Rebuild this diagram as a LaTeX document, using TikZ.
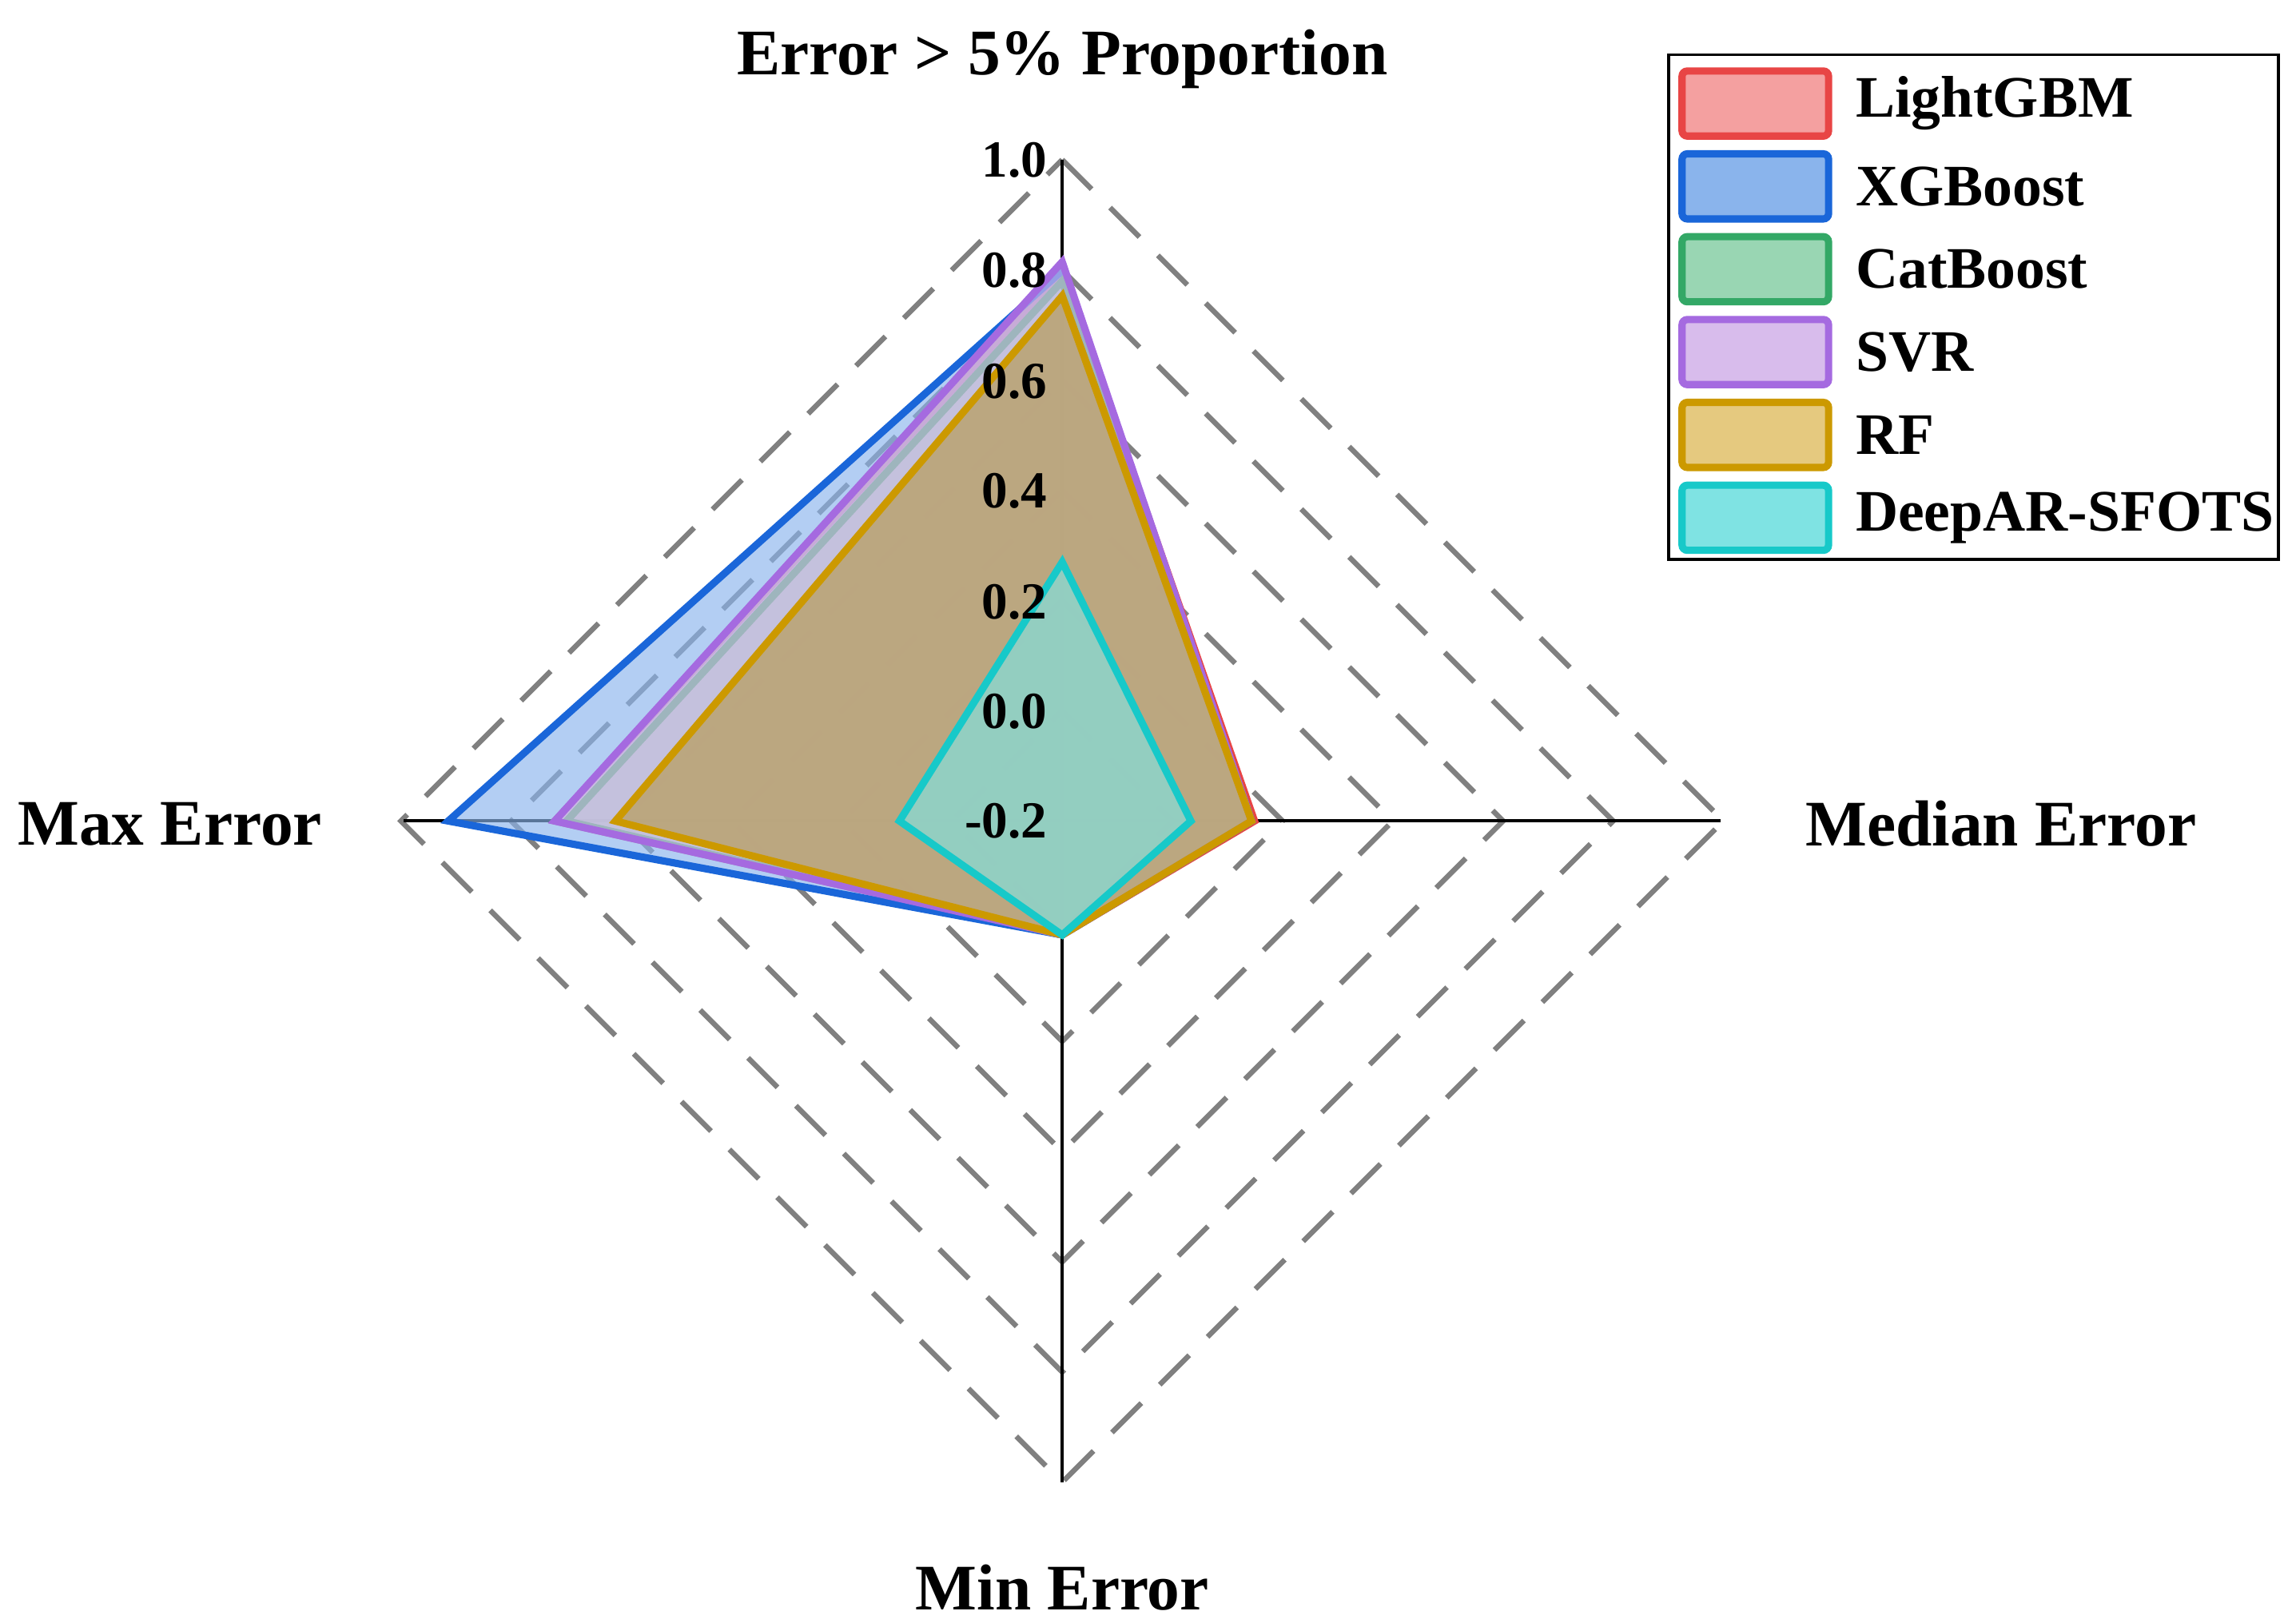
\documentclass[tikz,border=0pt]{standalone}
\usepackage{fontspec}
\usetikzlibrary{calc}
\setmainfont{Liberation Serif}
\begin{document}
\begin{tikzpicture}[x=0.01cm,y=-0.01cm,
  grid/.style={dashed,dash pattern=on 8pt off 5pt,draw=gray,line width=1pt},
  axisline/.style={black,line width=0.6pt},
  ttl/.style={font=\bfseries\fontsize{12.5}{14}\selectfont},
  tick/.style={font=\bfseries\fontsize{10}{12}\selectfont,anchor=east,inner sep=1pt},
  leg/.style={font=\bfseries\fontsize{11.3}{13}\selectfont,anchor=west},
  ser/.style={line width=1.4pt,fill opacity=0.65}]
\useasboundingbox (0,0) rectangle (1552,1097);
\definecolor{lgF}{HTML}{F4A0A0}\definecolor{lgD}{HTML}{E84545}
\definecolor{xgF}{HTML}{8AB4EC}\definecolor{xgD}{HTML}{1A66D9}
\definecolor{cbF}{HTML}{99D6B3}\definecolor{cbD}{HTML}{33A866}
\definecolor{svF}{HTML}{D8BCEC}\definecolor{svD}{HTML}{A56AE0}
\definecolor{rfF}{HTML}{E5C97F}\definecolor{rfD}{HTML}{CC9900}
\definecolor{daF}{HTML}{7FE3E3}\definecolor{daD}{HTML}{17C9C9}
\definecolor{rfI}{HTML}{B89A50}
\coordinate (c) at (718,555);
% grid diamonds
\foreach \k in {1,...,6}{
  \pgfmathsetmacro\r{74.5*\k}
  \draw[grid] ($(c)+(0,-\r)$) -- ($(c)+(\r,0)$) -- ($(c)+(0,\r)$) -- ($(c)+(-\r,0)$) -- cycle;
}
% axes
\coordinate (aT) at (718,108); \coordinate (aR) at (1163,555);
\coordinate (aB) at (718,1002); \coordinate (aL) at (273,555);
\foreach \a in {aT,aR,aB,aL} \draw[axisline] (c) -- (\a);
% series: top r, right r, bottom r, left r
\newcommand\radar[6]{%
  \filldraw[ser,fill=#1,draw=#2,draw opacity=1] (718,555-#3) -- (718+#4,555) -- (718,555+#5) -- (718-#6,555) -- cycle;}
\radar{lgF}{lgD}{372}{130}{77}{343}
\radar{xgF}{xgD}{372}{128}{77}{415}
\radar{cbF}{cbD}{365}{128}{77}{335}
\radar{svF}{svD}{378}{128}{77}{343}
\radar{rfI}{rfD}{355}{128}{77}{302}
\radar{daF}{daD}{175}{87}{77}{110}
% ticks
\foreach \v/\y in {1.0/108,0.8/183,0.6/258,0.4/332,0.2/407,0.0/481,-0.2/555}
  \node[tick] (t\y) at (712,\y) {\v};
% titles
\node[ttl] (tT) at (718,40) {Error > 5\% Proportion};
\node[ttl,anchor=west] (tR) at (1208,557) {Median Error};
\node[ttl,anchor=east] (tL) at (230,557) {Max Error};
\node[ttl] (tB) at (718,1073) {Min Error};
% legend
\draw[black,line width=0.6pt] (1128,37) rectangle (1540,378);
\foreach \n/\f/\d/\y in {LightGBM/lgF/lgD/70,XGBoost/xgF/xgD/126,CatBoost/cbF/cbD/182,SVR/svF/svD/238,RF/rfF/rfD/294,DeepAR-SFOTS/daF/daD/350}{
  \filldraw[fill=\f,draw=\d,line width=1.4pt,rounded corners=1pt] (1137,\y-22) rectangle (1236,\y+22);
  \node[leg] (l\y) at (1242,\y) {\n};
}
\end{tikzpicture}
\end{document}
